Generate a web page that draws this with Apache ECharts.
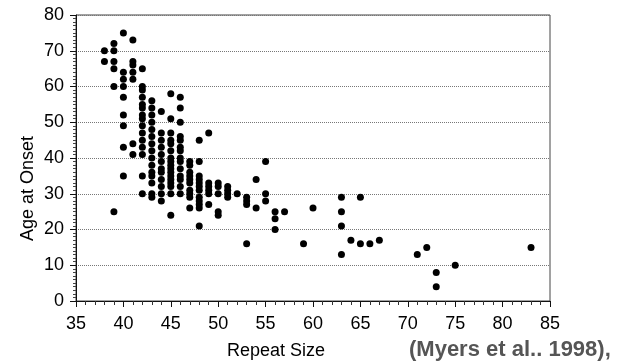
<!DOCTYPE html>
<html>
<head>
<meta charset="utf-8">
<title>Age at Onset vs Repeat Size</title>
<script src="https://cdn.jsdelivr.net/npm/echarts@6/dist/echarts.min.js"></script>
<style>
  html, body { margin: 0; padding: 0; background: #fff; }
  #main { width: 636px; height: 364px; }
</style>
</head>
<body>
<div id="main"></div>
<script>
// repeat sizes (x) and the onset ages read at each of them (y)
var repeatSizes = [38, 39, 40, 41, 42, 43, 44, 45, 46, 47, 48, 49, 50, 51, 52, 53, 54, 55, 56, 57, 59, 60, 63, 64, 65, 66, 67, 71, 72, 73, 75, 83];
var onsetAges = [
  [70, 67],
  [72, 70, 67, 65, 60, 25],
  [75, 64, 62, 60, 57, 52, 49, 43, 35],
  [73, 67, 66, 64, 62, 44, 41],
  [65, 60, 59, 57, 55, 54, 52, 51, 49, 47, 45, 43, 41, 35, 30],
  [56, 54, 52, 50, 48, 46, 44, 42, 40, 38, 36, 35, 33, 30, 29],
  [53, 47, 45, 43, 41, 39, 37, 36, 34, 32, 30, 28],
  [58, 51, 47, 45, 44, 42, 40, 39, 38, 37, 36, 35, 34, 33, 32, 30, 24],
  [57, 54, 50, 46, 45, 43, 42, 40, 39, 37, 35, 34, 32, 30],
  [39, 38, 36, 35, 34, 33, 31, 30, 29, 26],
  [45, 39, 35, 34, 33, 32, 31, 29, 28, 27, 26, 21],
  [47, 33, 32, 31, 30, 27],
  [33, 32, 30, 25, 24],
  [32, 31, 30, 29],
  [30],
  [29, 28, 27, 16],
  [34, 26],
  [39, 30, 28],
  [25, 23, 20],
  [25],
  [16],
  [26],
  [29, 25, 21, 13],
  [17],
  [29, 16],
  [16],
  [17],
  [13],
  [15],
  [8, 4],
  [10],
  [15]
];
var xRange = [35, 85];
var yRange = [0, 80];

var points = [];
for (var i = 0; i < repeatSizes.length; i++) {
  for (var j = 0; j < onsetAges[i].length; j++) {
    points.push([repeatSizes[i], onsetAges[i][j]]);
  }
}

var font = "'Liberation Sans', Arial, Helvetica, sans-serif";
var myChart = echarts.init(document.getElementById('main'));

var option = {
  backgroundColor: '#fff',
  animation: false,
  grid: {
    left: 76, right: 86, top: 15, bottom: 63,
    show: true, borderColor: '#444', borderWidth: 1
  },
  xAxis: {
    type: 'value',
    min: xRange[0], max: xRange[1], interval: 5,
    axisLine: { lineStyle: { color: '#111', width: 1 } },
    axisTick: { inside: false, length: 6, lineStyle: { color: '#111' } },
    minorTick: { show: true, splitNumber: 5, length: 4, lineStyle: { color: '#333' } },
    splitLine: { show: false },
    axisLabel: { color: '#000', fontSize: 18, fontFamily: font, margin: 14 }
  },
  yAxis: {
    type: 'value',
    min: yRange[0], max: yRange[1], interval: 10,
    axisLine: { show: true, lineStyle: { color: '#111', width: 1 } },
    axisTick: { show: true, inside: false, length: 6, lineStyle: { color: '#111' } },
    minorTick: { show: true, splitNumber: 10, length: 3, lineStyle: { color: '#444' } },
    splitLine: { show: true, lineStyle: { color: '#777', type: [1, 1], width: 1 } },
    axisLabel: { color: '#000', fontSize: 18, fontFamily: font, margin: 12 }
  },
  graphic: [
    {
      type: 'text', left: 227, top: 342,
      style: { text: 'Repeat Size', fill: '#000', font: '18px ' + font }
    },
    {
      type: 'text', x: 19, y: 241, rotation: Math.PI / 2,
      style: { text: 'Age at Onset', fill: '#000', font: '18px ' + font }
    },
    {
      type: 'text', left: 409, top: 339,
      style: { text: '(Myers et al.. 1998),', fill: '#555', font: 'bold 22px ' + font }
    }
  ],
  series: [{
    type: 'scatter',
    data: points,
    symbol: 'circle',
    symbolSize: 7,
    itemStyle: { color: '#000', opacity: 1 }
  }]
};
myChart.setOption(option);
</script>
</body>
</html>
